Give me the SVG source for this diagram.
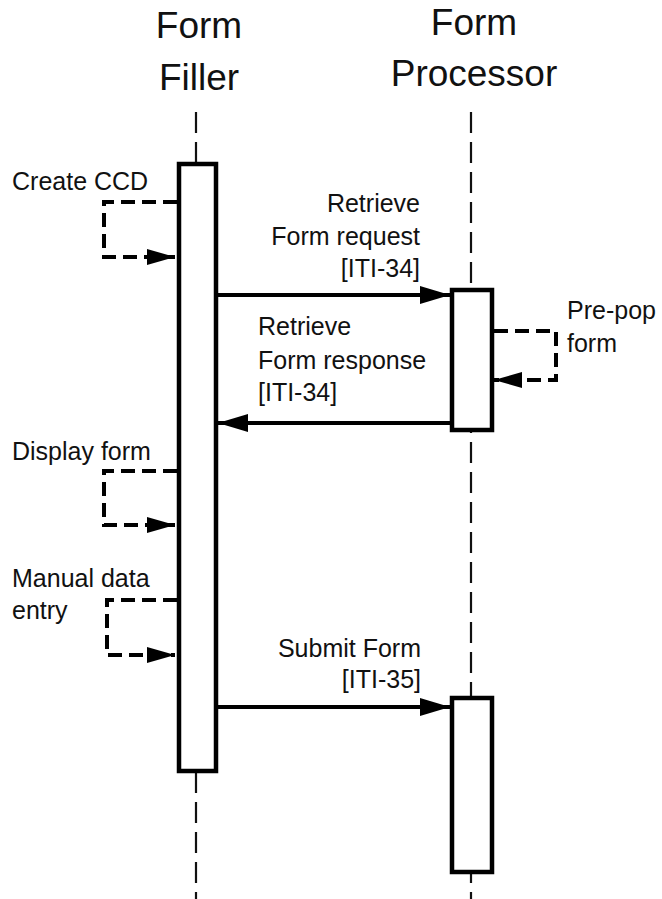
<svg xmlns="http://www.w3.org/2000/svg" width="662" height="899" viewBox="0 0 662 899">
<defs>
<style>
.t{font-family:"Liberation Sans","DejaVu Sans",sans-serif;font-size:25px;fill:#111}
.h{font-family:"Liberation Sans","DejaVu Sans",sans-serif;font-size:37px;fill:#111;text-anchor:middle}
.life{stroke:#111;stroke-width:2.2;stroke-dasharray:21 9;fill:none}
.act{fill:#fff;stroke:#000;stroke-width:4.5}
.msg{stroke:#000;stroke-width:4;fill:none}
.self{stroke:#000;stroke-width:4;fill:none;stroke-dasharray:14 7}
</style>
<marker id="ah" viewBox="0 0 30 18" refX="30" refY="9" markerWidth="30" markerHeight="18" markerUnits="userSpaceOnUse" orient="auto">
<path d="M0,0 L30,9 L0,18 Z" fill="#000"/>
</marker>
<marker id="ahs" viewBox="0 0 28 16" refX="28" refY="8" markerWidth="28" markerHeight="16" markerUnits="userSpaceOnUse" orient="auto">
<path d="M0,0 L28,8 L0,16 Z" fill="#000"/>
</marker>
</defs>
<rect width="662" height="899" fill="#fff"/>
<g id="filler">
<text class="h" x="199" y="38">Form</text>
<text class="h" x="199" y="90">Filler</text>
<line class="life" x1="196" y1="112" x2="196" y2="899"/>
<rect class="act" x="179" y="164" width="37" height="607"/>
</g>
<g id="processor">
<text class="h" x="474" y="35">Form</text>
<text class="h" x="474" y="86">Processor</text>
<line class="life" x1="471" y1="112" x2="471" y2="899"/>
<rect class="act" x="452" y="290" width="40" height="140"/>
<rect class="act" x="452" y="698" width="40" height="174"/>
</g>
<g id="connectors">
<path class="self" d="M177,202 H104 V257 H175" marker-end="url(#ahs)"/>
<path class="msg" d="M218,295 H450" marker-end="url(#ah)"/>
<path class="self" d="M494,331 H556 V380 H494" marker-end="url(#ahs)"/>
<path class="msg" d="M450,423 H218" marker-end="url(#ah)"/>
<path class="self" d="M177,471 H104 V525 H175" marker-end="url(#ahs)"/>
<path class="self" d="M177,600 H107 V655 H175" marker-end="url(#ahs)"/>
<path class="msg" d="M218,707 H450" marker-end="url(#ah)"/>
</g>
<g id="labels">
<text class="t" x="12" y="190">Create CCD</text>
<text class="t" x="420" y="212" text-anchor="end">Retrieve</text>
<text class="t" x="420" y="245" text-anchor="end">Form request</text>
<text class="t" x="420" y="277" text-anchor="end">[ITI-34]</text>
<text class="t" x="258" y="335">Retrieve</text>
<text class="t" x="258" y="369">Form response</text>
<text class="t" x="258" y="401">[ITI-34]</text>
<text class="t" x="567" y="319">Pre-pop</text>
<text class="t" x="567" y="352">form</text>
<text class="t" x="12" y="460">Display form</text>
<text class="t" x="12" y="587">Manual data</text>
<text class="t" x="12" y="619">entry</text>
<text class="t" x="421" y="657" text-anchor="end">Submit Form</text>
<text class="t" x="421" y="688" text-anchor="end">[ITI-35]</text>
</g>
</svg>
